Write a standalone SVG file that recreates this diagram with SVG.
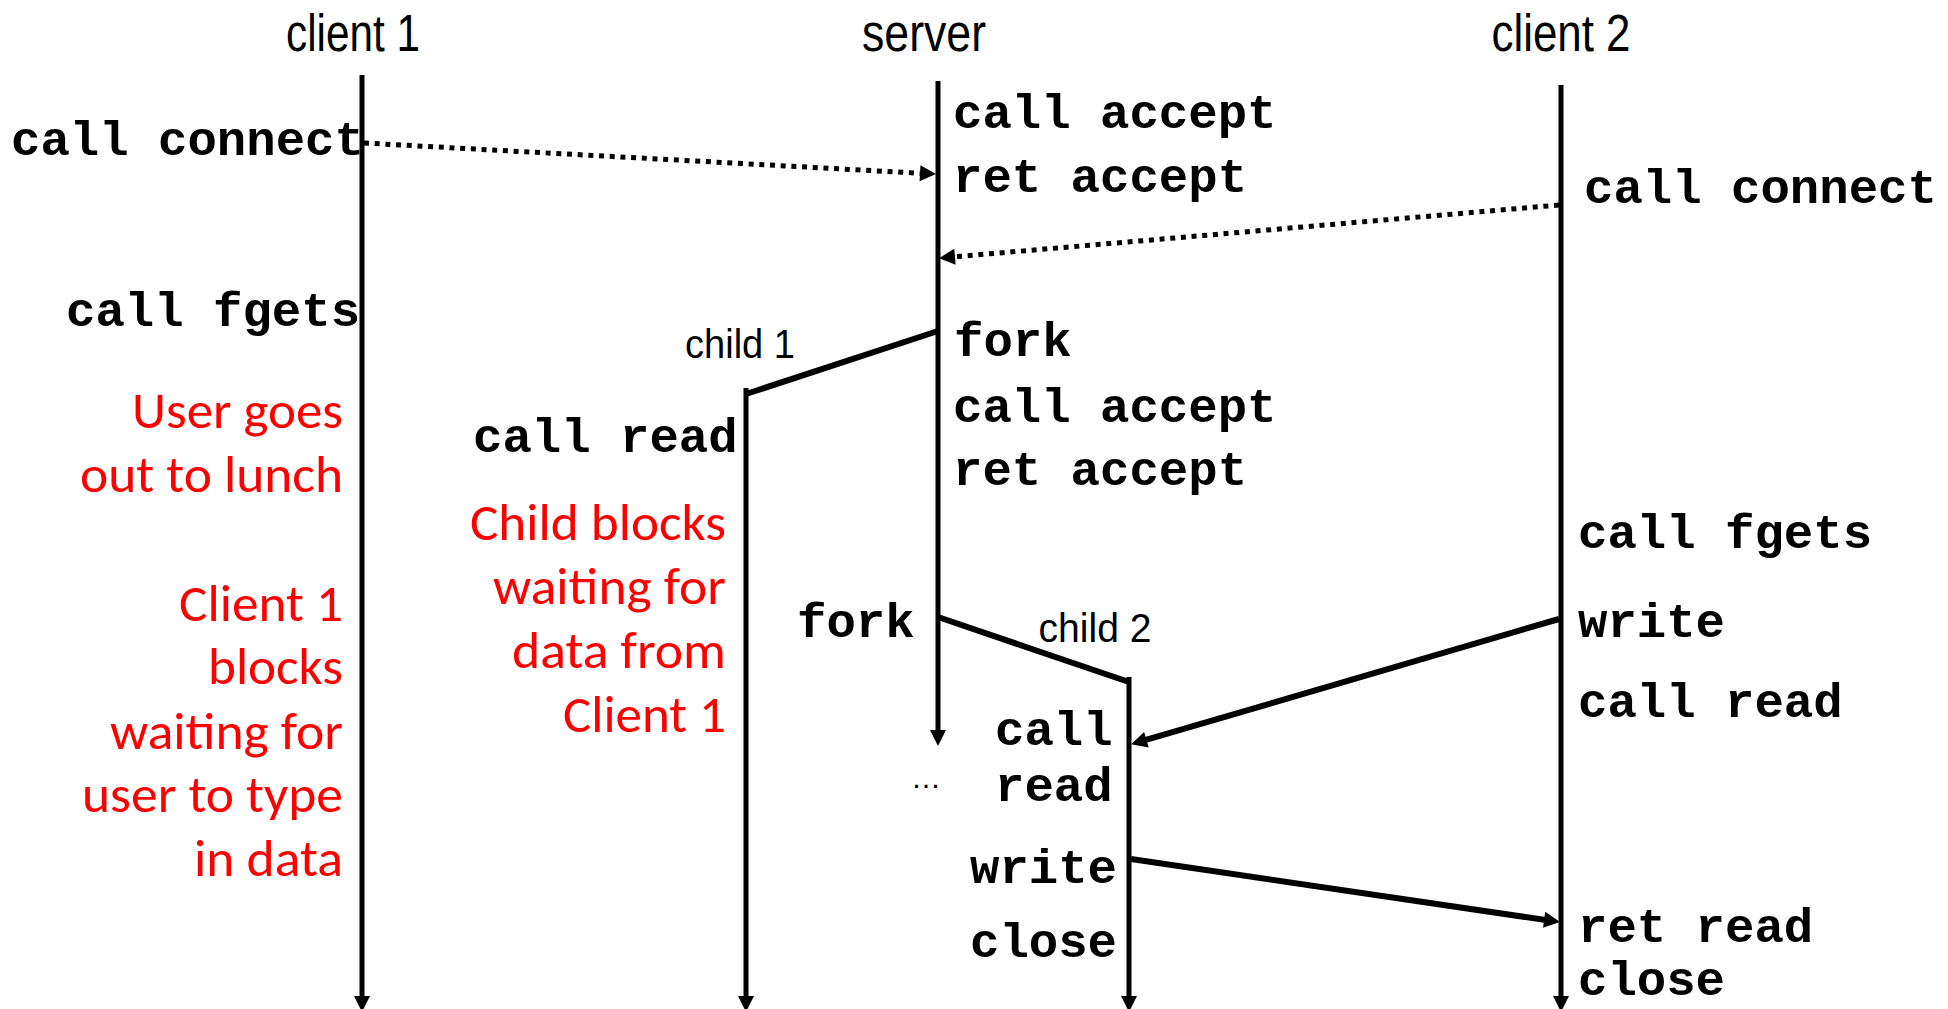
<svg xmlns="http://www.w3.org/2000/svg" width="1948" height="1009" viewBox="0 0 1948 1009">
<style>
.hdr{font-family:"Liberation Sans Narrow","Liberation Sans",Arial,sans-serif;font-size:51px;fill:#000}
.sm{font-family:"Liberation Sans Narrow","Liberation Sans",Arial,sans-serif;font-size:40px;fill:#000}
.code{font-family:"Liberation Mono","Courier New",monospace;font-weight:bold;font-size:49px;fill:#000}
.red{font-family:Carlito,Lato,"Open Sans",sans-serif;font-size:51px;fill:#ff0000}
.life{stroke:#000;stroke-width:5;fill:none}
.solid{stroke:#000;stroke-width:6;fill:none}
.dot{stroke:#000;stroke-width:5;stroke-dasharray:5 5.7;fill:none}
</style>
<defs>
<marker id="ah" markerUnits="userSpaceOnUse" markerWidth="16" markerHeight="16" refX="5" refY="8" orient="auto" viewBox="0 0 16 16" overflow="visible">
<path d="M0,0 L16,8 L0,16 z" fill="#000"/>
</marker>
</defs>
<rect width="1948" height="1009" fill="#fff"/>

<g id="client1">
<text class="hdr" x="353" y="51" text-anchor="middle" textLength="134" lengthAdjust="spacingAndGlyphs">client 1</text>
<line class="life" x1="362" y1="75" x2="362" y2="1001" marker-end="url(#ah)"/>
<text class="code" x="11" y="155">call connect</text>
<text class="code" x="66" y="326">call fgets</text>
<g id="client1-notes">
<text class="red" x="343" y="428" text-anchor="end" textLength="211" lengthAdjust="spacingAndGlyphs">User goes</text>
<text class="red" x="343" y="492" text-anchor="end" textLength="263" lengthAdjust="spacingAndGlyphs">out to lunch</text>
<text class="red" x="343" y="621" text-anchor="end" textLength="164" lengthAdjust="spacingAndGlyphs">Client 1</text>
<text class="red" x="343" y="684" text-anchor="end" textLength="135" lengthAdjust="spacingAndGlyphs">blocks</text>
<text class="red" x="343" y="749" text-anchor="end" textLength="233" lengthAdjust="spacingAndGlyphs">waiting for</text>
<text class="red" x="343" y="812" text-anchor="end" textLength="261" lengthAdjust="spacingAndGlyphs">user to type</text>
<text class="red" x="343" y="876" text-anchor="end" textLength="149" lengthAdjust="spacingAndGlyphs">in data</text>
</g>
</g>

<g id="server">
<text class="hdr" x="924" y="51" text-anchor="middle" textLength="124" lengthAdjust="spacingAndGlyphs">server</text>
<line class="life" x1="938" y1="81" x2="938" y2="735" marker-end="url(#ah)"/>
<text class="code" x="953" y="128">call accept</text>
<text class="code" x="953" y="192">ret accept</text>
<text class="code" x="954" y="356">fork</text>
<text class="code" x="953" y="422">call accept</text>
<text class="code" x="953" y="485">ret accept</text>
<text class="code" x="797" y="637">fork</text>
<text x="911" y="788" font-family="Liberation Sans,Arial,sans-serif" font-size="30" fill="#000">…</text>
</g>

<g id="child1">
<text class="sm" x="740" y="358" text-anchor="middle" textLength="110" lengthAdjust="spacingAndGlyphs">child 1</text>
<line class="life" x1="746" y1="388" x2="746" y2="1001" marker-end="url(#ah)"/>
<text class="code" x="473" y="452">call read</text>
<g id="child1-notes">
<text class="red" x="726" y="540" text-anchor="end" textLength="256" lengthAdjust="spacingAndGlyphs">Child blocks</text>
<text class="red" x="726" y="604" text-anchor="end" textLength="233" lengthAdjust="spacingAndGlyphs">waiting for</text>
<text class="red" x="726" y="668" text-anchor="end" textLength="214" lengthAdjust="spacingAndGlyphs">data from</text>
<text class="red" x="726" y="732" text-anchor="end" textLength="163" lengthAdjust="spacingAndGlyphs">Client 1</text>
</g>
</g>

<g id="child2">
<text class="sm" x="1095" y="642" text-anchor="middle" textLength="113" lengthAdjust="spacingAndGlyphs">child 2</text>
<line class="life" x1="1129" y1="677" x2="1129" y2="1001" marker-end="url(#ah)"/>
<text class="code" x="995" y="745">call</text>
<text class="code" x="995" y="801">read</text>
<text class="code" x="970" y="883">write</text>
<text class="code" x="970" y="957">close</text>
</g>

<g id="client2">
<text class="hdr" x="1561" y="51" text-anchor="middle" textLength="139" lengthAdjust="spacingAndGlyphs">client 2</text>
<line class="life" x1="1561" y1="85" x2="1561" y2="1001" marker-end="url(#ah)"/>
<text class="code" x="1584" y="203">call connect</text>
<text class="code" x="1578" y="548">call fgets</text>
<text class="code" x="1578" y="637">write</text>
<text class="code" x="1578" y="717">call read</text>
<text class="code" x="1578" y="942">ret read</text>
<text class="code" x="1578" y="995">close</text>
</g>

<g id="connectors">
<line class="solid" x1="938" y1="331" x2="746" y2="394"/>
<line class="solid" x1="938" y1="617" x2="1129" y2="682"/>
<line class="dot" x1="364" y1="143" x2="925" y2="173.5" marker-end="url(#ah)"/>
<line class="dot" x1="1559" y1="205" x2="950" y2="257.2" marker-end="url(#ah)"/>
<line class="solid" x1="1559" y1="619" x2="1141.6" y2="741.2" marker-end="url(#ah)"/>
<line class="solid" x1="1131" y1="859" x2="1549.1" y2="920.5" marker-end="url(#ah)"/>
</g>
</svg>
